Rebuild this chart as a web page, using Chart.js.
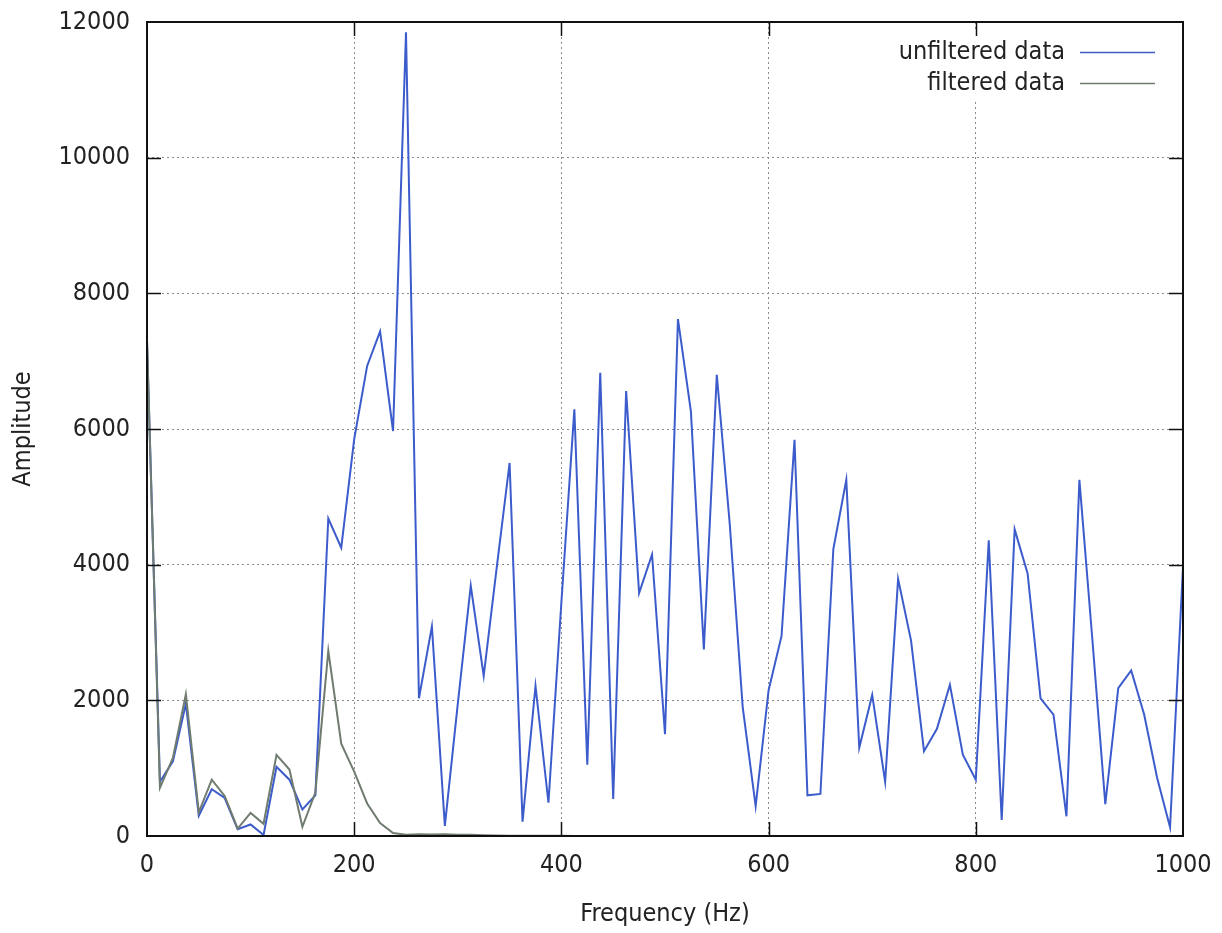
<!DOCTYPE html>
<html><head><meta charset="utf-8">
<script src="https://cdn.jsdelivr.net/npm/chart.js@4.4.0/dist/chart.umd.min.js"></script>
<style>html,body{margin:0;padding:0;background:#fff}#wrap{width:1222px;height:933px;position:relative}canvas{display:block}</style>
</head><body><div id="wrap"><canvas id="c" width="1222" height="933"></canvas></div>
<script>
const frequencies = [0,12.5,25,37.5,50,62.5,75,87.5,100,112.5,125,137.5,150,162.5,175,187.5,200,212.5,225,237.5,250,262.5,275,287.5,300,312.5,325,337.5,350,362.5,375,387.5,400,412.5,425,437.5,450,462.5,475,487.5,500,512.5,525,537.5,550,562.5,575,587.5,600,612.5,625,637.5,650,662.5,675,687.5,700,712.5,725,737.5,750,762.5,775,787.5,800,812.5,825,837.5,850,862.5,875,887.5,900,912.5,925,937.5,950,962.5,975,987.5,1000];
const unfiltered = [7300,800,1100,1950,300,690,560,100,170,15,1020,830,390,600,4680,4250,5850,6930,7440,5970,11850,2030,3090,150,1950,3690,2360,3950,5500,210,2210,490,3450,6290,1050,6830,545,6560,3580,4150,1500,7620,6260,2750,6800,4600,1900,440,2150,2950,5840,600,620,4230,5250,1300,2080,800,3790,2880,1250,1580,2230,1200,830,4360,235,4520,3870,2030,1790,290,5250,2900,470,2180,2440,1790,860,130,3970];
const filtered = [7300,710,1150,2090,350,830,590,110,340,180,1195,980,135,640,2730,1360,950,480,190,45,20,25,22,25,20,18,12,8,5,4,3,2,2,1,1,1,0,0,0,0,0,0,0,0,0,0,0,0,0,0,0,0,0,0,0,0,0,0,0,0,0,0,0,0,0,0,0,0,0,0,0,0,0,0,0,0,0,0,0,0,0];
const seriesNames = ['unfiltered data','filtered data'];
const xTicks = [0,200,400,600,800,1000];
const yTicks = [0,2000,4000,6000,8000,10000,12000];
const xTitle = 'Frequency (Hz)';
const yTitle = 'Amplitude';

const FONT = '"DejaVu Sans Condensed","DejaVu Sans",sans-serif';
const FSIZE = 25;
const BLUE = '#3d5ccc';
const GRAY = '#6f7c6f';
const TEXT = '#222';

const decor = {
  id: 'decor',
  afterDraw(chart) {
    const ctx = chart.ctx, a = chart.chartArea;
    const xs = chart.scales.x, ys = chart.scales.y;
    ctx.save();
    ctx.fillStyle = '#fff';
    ctx.fillRect(880, 30, 290, 72);
    ctx.strokeStyle = '#111';
    ctx.lineWidth = 2;
    ctx.strokeRect(a.left, a.top, a.right - a.left, a.bottom - a.top);
    ctx.lineWidth = 1.5;
    const TL = 14;
    ctx.beginPath();
    xTicks.forEach(v => {
      const px = Math.round(xs.getPixelForValue(v)) + 0.5;
      if (px <= a.left + 1 || px >= a.right - 1) return;
      ctx.moveTo(px, a.bottom); ctx.lineTo(px, a.bottom - TL);
      ctx.moveTo(px, a.top); ctx.lineTo(px, a.top + TL);
    });
    yTicks.forEach(v => {
      const py = Math.round(ys.getPixelForValue(v)) + 0.5;
      if (py <= a.top + 1 || py >= a.bottom - 1) return;
      ctx.moveTo(a.left, py); ctx.lineTo(a.left + TL, py);
      ctx.moveTo(a.right, py); ctx.lineTo(a.right - TL, py);
    });
    ctx.stroke();
    ctx.fillStyle = TEXT;
    ctx.font = FSIZE + 'px ' + FONT;
    ctx.textAlign = 'center';
    ctx.textBaseline = 'middle';
    ctx.fillText(xTitle, (a.left + a.right) / 2, 914);
    ctx.save();
    ctx.translate(23, (a.top + a.bottom) / 2);
    ctx.rotate(-Math.PI / 2);
    ctx.fillText(yTitle, 0, 0);
    ctx.restore();
    const rows = [[seriesNames[0], BLUE, 52], [seriesNames[1], GRAY, 83]];
    ctx.textAlign = 'right';
    rows.forEach(([t, c, y]) => {
      ctx.fillStyle = TEXT;
      ctx.fillText(t, 1065, y);
      ctx.strokeStyle = c;
      ctx.lineWidth = 1.5;
      ctx.beginPath();
      ctx.moveTo(1080, y + 0.5); ctx.lineTo(1155, y + 0.5);
      ctx.stroke();
    });
    ctx.restore();
  }
};

const zeroPad = s => { s.paddingTop = 0; s.paddingBottom = 0; s.paddingLeft = 0; s.paddingRight = 0; };

new Chart(document.getElementById('c'), {
  type: 'line',
  data: {
    datasets: [
      { label: seriesNames[1], data: frequencies.map((f, i) => ({x: f, y: filtered[i]})), borderColor: GRAY, borderWidth: 2, pointRadius: 0, tension: 0, fill: false, order: 0 },
      { label: seriesNames[0], data: frequencies.map((f, i) => ({x: f, y: unfiltered[i]})), borderColor: BLUE, borderWidth: 2, pointRadius: 0, tension: 0, fill: false, order: 1 }
    ]
  },
  options: {
    responsive: false,
    animation: false,
    devicePixelRatio: 1,
    layout: { padding: { top: 22, right: 39, left: 0, bottom: 0 } },
    plugins: { legend: { display: false }, tooltip: { enabled: false } },
    scales: {
      x: {
        type: 'linear', min: 0, max: 1000,
        afterFit: s => { s.height = 97; zeroPad(s); },
        afterBuildTicks: s => { s.ticks = xTicks.map(v => ({value: v})); },
        ticks: { font: { family: FONT, size: FSIZE }, color: TEXT, padding: 14, maxRotation: 0, autoSkip: false, callback: v => String(v) },
        grid: { color: '#8a8a8a', lineWidth: 1, drawTicks: false },
        border: { display: false, dash: [2, 3] }
      },
      y: {
        type: 'linear', min: 0, max: 12000,
        afterFit: s => { s.width = 147; zeroPad(s); },
        afterBuildTicks: s => { s.ticks = yTicks.map(v => ({value: v})); },
        ticks: { font: { family: FONT, size: FSIZE }, color: TEXT, padding: 17, autoSkip: false, callback: v => String(v) },
        grid: { color: '#8a8a8a', lineWidth: 1, drawTicks: false },
        border: { display: false, dash: [2, 3] }
      }
    }
  },
  plugins: [decor]
});
</script>
</body></html>
